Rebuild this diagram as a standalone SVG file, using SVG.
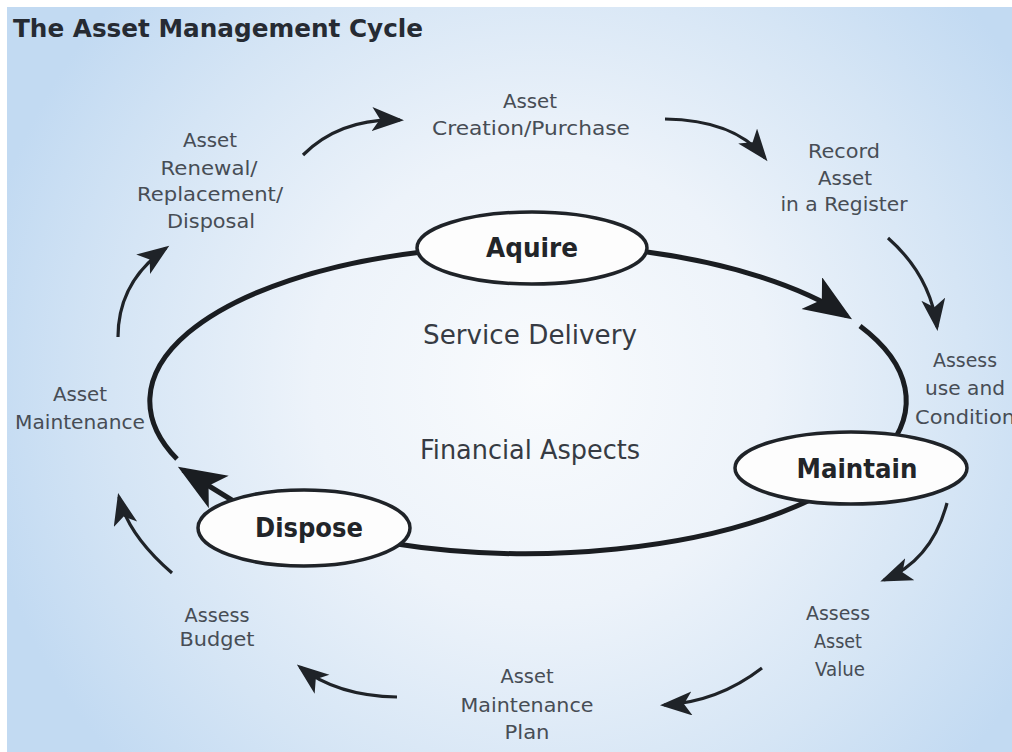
<svg xmlns="http://www.w3.org/2000/svg" width="1012" height="752" viewBox="0 0 1012 752">
<defs>
<radialGradient id="bg" gradientUnits="userSpaceOnUse" cx="540" cy="380" r="570">
<stop offset="0" stop-color="#f9fbfd"/>
<stop offset="0.4" stop-color="#edf3fa"/>
<stop offset="0.75" stop-color="#d5e5f5"/>
<stop offset="1" stop-color="#c2daf2"/>
</radialGradient>
<marker id="ah" markerUnits="userSpaceOnUse" markerWidth="34" markerHeight="26" refX="28" refY="12" orient="auto" viewBox="0 0 34 26">
<path d="M0,0 L32,12 L0,24 L8,12 z" fill="#1f2328"/>
</marker>
<marker id="bh" markerUnits="userSpaceOnUse" markerWidth="50" markerHeight="40" refX="42" refY="19" orient="auto" viewBox="0 0 50 40">
<path d="M0,0 L48,19 L0,38 L12,19 z" fill="#1a1d21"/>
</marker>
</defs>
<style>
.lbl{font-family:"DejaVu Sans","Liberation Sans",sans-serif;font-size:19px;fill:#474d55;text-anchor:middle}
.mid{font-family:"DejaVu Sans","Liberation Sans",sans-serif;font-size:26px;fill:#363b43;text-anchor:middle}
.node{font-family:"DejaVu Sans","Liberation Sans",sans-serif;font-size:26px;font-weight:bold;fill:#222529;text-anchor:middle}
.title{font-family:"DejaVu Sans","Liberation Sans",sans-serif;font-size:24px;font-weight:bold;fill:#262b33}
.loop{fill:none;stroke:#1a1d21;stroke-width:5}
.out{fill:none;stroke:#1f2328;stroke-width:3.2}
.ell{fill:#fdfdfd;stroke:#1f2328;stroke-width:3.5}
</style>
<rect x="0" y="0" width="1012" height="752" fill="#ffffff"/>
<rect x="7" y="7" width="1005" height="745" fill="url(#bg)"/>
<text class="title" x="13" y="37" textLength="410" lengthAdjust="spacingAndGlyphs">The Asset Management Cycle</text>

<g id="connectors">
<path class="loop" d="M647,252 A375 155 0 0 1 847,316" marker-end="url(#bh)"/>
<path class="loop" d="M860,326 A375 155 0 0 1 885,452"/>
<path class="loop" d="M810,500 A375 155 0 0 1 390,543"/>
<path class="loop" d="M235,502 L183,470" marker-end="url(#bh)"/>
<path class="loop" d="M177,459 A375 155 0 0 1 422,252"/>
<path class="out" d="M303,155 Q340,118 400,120" marker-end="url(#ah)"/>
<path class="out" d="M665,119 Q735,120 765,158" marker-end="url(#ah)"/>
<path class="out" d="M888,238 Q930,275 937,327" marker-end="url(#ah)"/>
<path class="out" d="M947,503 Q932,560 884,580" marker-end="url(#ah)"/>
<path class="out" d="M762,668 Q718,702 664,705" marker-end="url(#ah)"/>
<path class="out" d="M397,697 Q337,696 300,667" marker-end="url(#ah)"/>
<path class="out" d="M172,573 Q128,535 119,497" marker-end="url(#ah)"/>
<path class="out" d="M118,337 Q118,282 166,248" marker-end="url(#ah)"/>
</g>

<g id="aquire">
<ellipse class="ell" cx="532" cy="248" rx="115" ry="36"/>
<text class="node" x="532" y="257" textLength="92" lengthAdjust="spacingAndGlyphs">Aquire</text>
</g>
<g id="maintain">
<ellipse class="ell" cx="851" cy="468" rx="116" ry="36"/>
<text class="node" x="857" y="478" textLength="121" lengthAdjust="spacingAndGlyphs">Maintain</text>
</g>
<g id="dispose">
<ellipse class="ell" cx="304" cy="528" rx="106" ry="38"/>
<text class="node" x="309" y="537" textLength="108" lengthAdjust="spacingAndGlyphs">Dispose</text>
</g>

<g id="center-labels">
<text class="mid" x="530" y="344" textLength="214" lengthAdjust="spacingAndGlyphs">Service Delivery</text>
<text class="mid" x="530" y="459" textLength="220" lengthAdjust="spacingAndGlyphs">Financial Aspects</text>
</g>

<g id="creation">
<text class="lbl" x="530" y="108" textLength="54" lengthAdjust="spacingAndGlyphs">Asset</text>
<text class="lbl" x="531" y="135" textLength="198" lengthAdjust="spacingAndGlyphs">Creation/Purchase</text>
</g>
<g id="record">
<text class="lbl" x="844" y="158" textLength="72" lengthAdjust="spacingAndGlyphs">Record</text>
<text class="lbl" x="845" y="185" textLength="54" lengthAdjust="spacingAndGlyphs">Asset</text>
<text class="lbl" x="844" y="211" textLength="127" lengthAdjust="spacingAndGlyphs">in a Register</text>
</g>
<g id="assess-use">
<text class="lbl" x="965" y="367" textLength="64" lengthAdjust="spacingAndGlyphs">Assess</text>
<text class="lbl" x="965" y="395" textLength="80" lengthAdjust="spacingAndGlyphs">use and</text>
<text class="lbl" x="965" y="424" textLength="100" lengthAdjust="spacingAndGlyphs">Condition</text>
</g>
<g id="assess-value">
<text class="lbl" x="838" y="620" textLength="64" lengthAdjust="spacingAndGlyphs">Assess</text>
<text class="lbl" x="838" y="648" textLength="48" lengthAdjust="spacingAndGlyphs">Asset</text>
<text class="lbl" x="840" y="676" textLength="50" lengthAdjust="spacingAndGlyphs">Value</text>
</g>
<g id="maint-plan">
<text class="lbl" x="527" y="683" textLength="53" lengthAdjust="spacingAndGlyphs">Asset</text>
<text class="lbl" x="527" y="712" textLength="133" lengthAdjust="spacingAndGlyphs">Maintenance</text>
<text class="lbl" x="527" y="739" textLength="45" lengthAdjust="spacingAndGlyphs">Plan</text>
</g>
<g id="budget">
<text class="lbl" x="217" y="622" textLength="65" lengthAdjust="spacingAndGlyphs">Assess</text>
<text class="lbl" x="217" y="646" textLength="75" lengthAdjust="spacingAndGlyphs">Budget</text>
</g>
<g id="maintenance">
<text class="lbl" x="80" y="401" textLength="54" lengthAdjust="spacingAndGlyphs">Asset</text>
<text class="lbl" x="80" y="429" textLength="130" lengthAdjust="spacingAndGlyphs">Maintenance</text>
</g>
<g id="renewal">
<text class="lbl" x="210" y="147" textLength="54" lengthAdjust="spacingAndGlyphs">Asset</text>
<text class="lbl" x="209" y="175" textLength="97" lengthAdjust="spacingAndGlyphs">Renewal/</text>
<text class="lbl" x="210" y="201" textLength="146" lengthAdjust="spacingAndGlyphs">Replacement/</text>
<text class="lbl" x="211" y="228" textLength="88" lengthAdjust="spacingAndGlyphs">Disposal</text>
</g>
</svg>
